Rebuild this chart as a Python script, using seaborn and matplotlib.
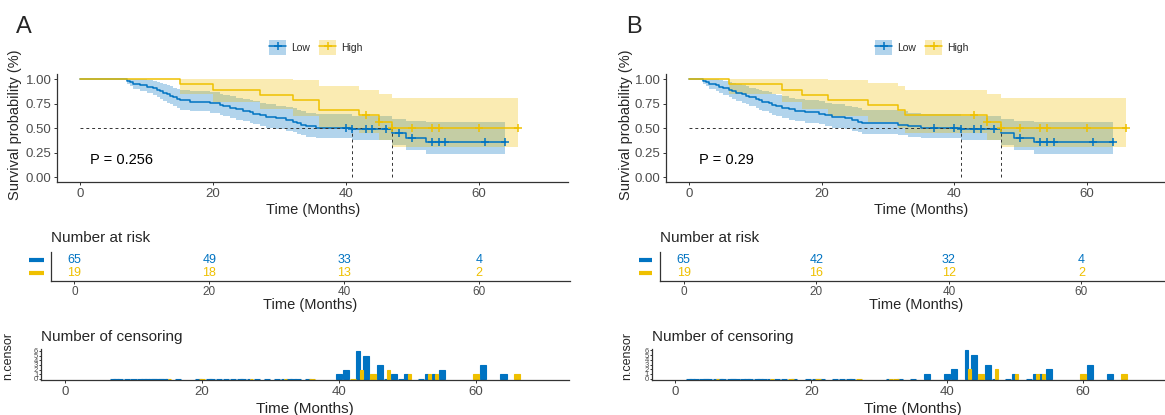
import numpy as np
import pandas as pd
import matplotlib
matplotlib.use("Agg")
import matplotlib.pyplot as plt
import seaborn as sns
from matplotlib.patches import Patch
from matplotlib.lines import Line2D
from matplotlib.legend_handler import HandlerTuple
from matplotlib.transforms import blended_transform_factory

sns.set_theme(style="white")
plt.rcParams['font.family'] = ['Liberation Sans', 'DejaVu Sans']

LOW_C = '#0073C2'
HIGH_C = '#EFC000'
AX_C = '#333333'
TICK_C = '#4D4D4D'
W, H = 1165, 415

# ---------------- 資料 ----------------
groups = ['Low', 'High']

# Panel A, Low
a_low_time = [0, 7, 7.5, 8, 9, 10, 11, 11.5, 12, 12.5, 13, 13.5, 14, 14.5, 15, 16.5, 19.5, 21, 21.5, 22.5,
              23.5, 24.5, 25.5, 26, 27, 28, 29.5, 31, 32, 32.7, 33.3, 34, 35.5, 41, 47, 49, 52, 64]
a_low_surv = [1, .985, .969, .954, .938, .923, .908, .892, .877, .862, .846, .831, .815, .800, .785, .769, .754, .738, .723, .708,
              .692, .677, .662, .646, .631, .615, .600, .585, .569, .554, .538, .523, .508, .492, .449, .400, .364, .364]
a_low_lower = [1, .955, .928, .904, .882, .861, .840, .820, .801, .782, .763, .745, .726, .708, .691, .673, .656, .639, .622, .605,
               .589, .572, .556, .540, .524, .508, .492, .476, .461, .445, .430, .415, .400, .384, .33, .28, .24, .24]
a_low_upper = [1, 1, 1, 1, .999, .990, .981, .971, .961, .950, .939, .927, .915, .903, .891, .879, .866, .853, .840, .827,
               .814, .801, .787, .774, .760, .746, .732, .718, .703, .689, .674, .659, .645, .630, .60, .57, .56, .56]
a_low_cens = [40, 41, 43, 44, 46, 48, 50, 53, 54, 55, 61, 64]

# Panel A, High
a_high_time = [0, 15, 20, 27, 32, 36, 42, 45, 47, 66]
a_high_surv = [1, .947, .895, .842, .789, .684, .632, .569, .498, .498]
a_high_lower = [1, .852, .767, .693, .626, .504, .448, .381, .308, .308]
a_high_upper = [1, 1, 1, 1, .995, .929, .890, .850, .805, .805]
a_high_cens = [43, 45, 47, 50, 53, 54, 60, 66]

# Panel B, Low
b_low_time = [0, 2, 2.5, 3, 4, 4.5, 5, 6, 6.5, 7, 8, 8.5, 9, 10, 10.5, 11, 12, 12.5, 13, 14,
              15, 16, 17.5, 19.5, 20.5, 21.5, 23.5, 24.5, 25.5, 26, 31.5, 33, 35, 41, 47, 49, 52, 64]
b_low_surv = [1, .985, .969, .954, .938, .923, .908, .892, .877, .862, .846, .831, .815, .800, .785, .769, .754, .738, .723, .708,
              .692, .677, .662, .646, .631, .615, .600, .585, .569, .554, .538, .523, .508, .492, .449, .400, .364, .364]
b_low_lower = [1, .955, .928, .904, .882, .861, .840, .820, .801, .782, .763, .745, .726, .708, .691, .673, .656, .639, .622, .605,
               .589, .572, .556, .540, .524, .508, .492, .476, .461, .445, .430, .415, .400, .384, .33, .28, .24, .24]
b_low_upper = [1, 1, 1, 1, .999, .990, .981, .971, .961, .950, .939, .927, .915, .903, .891, .879, .866, .853, .840, .827,
               .814, .801, .787, .774, .760, .746, .732, .718, .703, .689, .674, .659, .645, .630, .60, .57, .56, .56]
b_low_cens = [37, 40, 41, 43, 44, 46, 50, 53, 54, 55, 61, 64]

# Panel B, High
b_high_time = [0, 6, 14, 17, 21, 27, 31.5, 32.5, 45, 47, 66]
b_high_surv = [1, .947, .895, .842, .789, .737, .684, .632, .569, .498, .498]
b_high_lower = [1, .852, .767, .693, .626, .563, .504, .448, .381, .308, .308]
b_high_upper = [1, 1, 1, 1, .995, .964, .929, .890, .850, .805, .805]
b_high_cens = [43, 45, 47, 50, 53, 54, 60, 66]

a_median = [41, 47]
b_median = [41, 47]
a_pval = 'P = 0.256'
b_pval = 'P = 0.29'

# number at risk
risk_time = [0, 20, 40, 60]
a_risk_low = [65, 49, 33, 4]
a_risk_high = [19, 18, 13, 2]
b_risk_low = [65, 42, 32, 4]
b_risk_high = [19, 16, 12, 2]

# number of censoring (只列出 >0 的)
a_nc_low_time = [40, 41, 43, 44, 46, 48, 50, 53, 54, 55, 61, 64]
a_nc_low_n = [1, 2, 6, 5, 3, 1, 1, 1, 1, 2, 3, 1]
a_nc_high_time = [43, 45, 47, 50, 53, 54, 60, 66]
a_nc_high_n = [2, 1, 2, 1, 1, 1, 1, 1]
b_nc_low_time = [37, 40, 41, 43, 44, 46, 50, 53, 54, 55, 61, 64]
b_nc_low_n = [1, 1, 2, 6, 5, 3, 1, 1, 1, 2, 3, 1]
b_nc_high_time = [43, 45, 47, 50, 53, 54, 60, 66]
b_nc_high_n = [2, 1, 2, 1, 1, 1, 1, 1]

XLIM = (-3.5, 73.5)

fig = plt.figure(figsize=(W / 100, H / 100), dpi=100)


def px_axes(left, top, right, bottom):
    return fig.add_axes([left / W, 1 - bottom / H, (right - left) / W, (bottom - top) / H])


def fig_text(x, y, s, **kw):
    fig.text(x / W, 1 - y / H, s, **kw)


def style_axes(ax, ticksize=9.5):
    sns.despine(ax=ax)
    for sp in ['left', 'bottom']:
        ax.spines[sp].set_color(AX_C)
        ax.spines[sp].set_linewidth(0.9)
    ax.tick_params(axis='both', direction='out', length=2.5, width=0.7, color=AX_C,
                   labelcolor=TICK_C, labelsize=ticksize, pad=1.5, left=True, bottom=True)
    ax.set_facecolor('white')
    ax.grid(False)
    ax.set_xlim(*XLIM)
    ax.set_xticks(risk_time)
    ax.set_xlabel('')
    ax.set_ylabel('')


def draw_km(ax, curves, medians, pval):
    for t, s, lo, up, cens, c in curves:
        ax.fill_between(t, lo, up, step='post', color=c, alpha=0.3, lw=0)
    for t, s, lo, up, cens, c in curves:
        df = pd.DataFrame({'time': t, 'surv': s})
        sns.lineplot(data=df, x='time', y='surv', drawstyle='steps-post', color=c, lw=1.1,
                     estimator=None, errorbar=None, ax=ax)
        idx = np.searchsorted(t, cens, side='right') - 1
        sns.scatterplot(x=cens, y=np.asarray(s)[idx], marker='+', s=35, color=c, linewidth=1.1,
                        ax=ax, zorder=4, legend=False)
    ax.plot([0, max(medians)], [0.5, 0.5], ls=(0, (3, 3)), color=AX_C, lw=0.7)
    for m in medians:
        ax.plot([m, m], [0, 0.5], ls=(0, (3, 3)), color=AX_C, lw=0.7)
    ax.text(1.5, 0.18, pval, ha='left', va='center', fontsize=10.5, color='black')
    style_axes(ax)
    ax.set_ylim(-0.05, 1.05)
    ax.set_yticks([0, 0.25, 0.5, 0.75, 1.0])
    ax.set_yticklabels(['0.00', '0.25', '0.50', '0.75', '1.00'])


def draw_risk(ax, low, high, dash_x):
    for n_low, n_high, t in zip(low, high, risk_time):
        ax.text(t, 2, str(n_low), ha='center', va='center', color=LOW_C, fontsize=9)
        ax.text(t, 1, str(n_high), ha='center', va='center', color=HIGH_C, fontsize=9)
    style_axes(ax, ticksize=8.5)
    ax.tick_params(axis='x', pad=1)
    ax.set_ylim(0.4, 2.6)
    ax.set_yticks([])
    tr = blended_transform_factory(fig.transFigure, ax.transData)
    for yy, c in [(2, LOW_C), (1, HIGH_C)]:
        ax.plot([dash_x[0] / W, dash_x[1] / W], [yy, yy], color=c, lw=3, transform=tr,
                clip_on=False, solid_capstyle='butt')


def draw_ncensor(ax, low_ev, low_t, low_n, high_ev, high_t, high_n):
    low = {t: 0 for t in low_ev}
    low.update(dict(zip(low_t, low_n)))
    high = {t: 0 for t in high_ev}
    high.update(dict(zip(high_t, high_n)))
    for cnt, other, c, side in [(low, high, LOW_C, -1), (high, low, HIGH_C, 1)]:
        for t, n in cnt.items():
            if t in other:
                x, w = t + side * 0.225, 0.45
            else:
                x, w = t, 0.9
            ax.bar(x, n, width=w, color=c, edgecolor=c, lw=0.8)
    style_axes(ax)
    ax.set_ylim(-0.3, 6.3)
    ax.set_yticks(range(7))
    # 刻度很擠，原圖也是疊在一起
    ax.tick_params(axis='y', labelsize=5.5, pad=0.5, length=1.5)


panels = [
    dict(km=(57, 74.4, 568.3, 182.2), risk=(50.8, 252, 569.8, 281), nc=(41, 349.4, 568.5, 380.4),
         letter=(24, 27, 'A'), ylab_x=15, leg_x=316, dash=(29, 43.7), risk_title_x=50.8,
         nc_title_x=41, nclab_x=8,
         curves=[(a_low_time, a_low_surv, a_low_lower, a_low_upper, a_low_cens, LOW_C),
                 (a_high_time, a_high_surv, a_high_lower, a_high_upper, a_high_cens, HIGH_C)],
         median=a_median, pval=a_pval, rl=a_risk_low, rh=a_risk_high,
         nc_low=(a_nc_low_time, a_nc_low_n), nc_high=(a_nc_high_time, a_nc_high_n)),
    dict(km=(666.3, 74.4, 1176, 182.2), risk=(660.4, 252, 1171, 281), nc=(651.5, 349, 1175, 380),
         letter=(634, 27, 'B'), ylab_x=626, leg_x=922, dash=(639, 652), risk_title_x=659.5,
         nc_title_x=651.7, nclab_x=627,
         curves=[(b_low_time, b_low_surv, b_low_lower, b_low_upper, b_low_cens, LOW_C),
                 (b_high_time, b_high_surv, b_high_lower, b_high_upper, b_high_cens, HIGH_C)],
         median=b_median, pval=b_pval, rl=b_risk_low, rh=b_risk_high,
         nc_low=(b_nc_low_time, b_nc_low_n), nc_high=(b_nc_high_time, b_nc_high_n)),
]

for p in panels:
    # --- KM 曲線 ---
    ax = px_axes(*p['km'])
    draw_km(ax, p['curves'], p['median'], p['pval'])
    kl, kt, kr, kb = p['km']
    fig_text(p['ylab_x'], (kt + kb) / 2 - 4, 'Survival probability (%)', rotation=90,
             ha='center', va='center', fontsize=10.5)
    fig_text((kl + kr) / 2, 210, 'Time (Months)', ha='center', va='center', fontsize=10.5)
    lx, ly, letter = p['letter']
    fig_text(lx, ly, letter, ha='center', va='center', fontsize=17)

    handles = [(Patch(facecolor=c, alpha=0.3, lw=0),
                Line2D([], [], color=c, lw=1.1, marker='+', markersize=6, mew=1.1))
               for c in [LOW_C, HIGH_C]]
    fig.legend(handles, groups, handler_map={tuple: HandlerTuple(ndivide=1)}, loc='center',
               bbox_to_anchor=(p['leg_x'] / W, 1 - 47.7 / H), ncol=2, frameon=False,
               fontsize=7.5, handlelength=1.6, handleheight=1.8, columnspacing=0.9,
               handletextpad=0.5)

    # --- Number at risk ---
    ax = px_axes(*p['risk'])
    draw_risk(ax, p['rl'], p['rh'], p['dash'])
    rl_, rt, rr, rb = p['risk']
    fig_text(p['risk_title_x'], 238, 'Number at risk', ha='left', va='center', fontsize=11)
    fig_text((rl_ + rr) / 2, 304.5, 'Time (Months)', ha='center', va='center', fontsize=10.5)

    # --- Number of censoring ---
    ax = px_axes(*p['nc'])
    low_ev = p['curves'][0][0][1:-1]
    high_ev = p['curves'][1][0][1:-1]
    draw_ncensor(ax, low_ev, *p['nc_low'], high_ev, *p['nc_high'])
    nl, nt, nr, nb = p['nc']
    fig_text(p['nc_title_x'], 337, 'Number of censoring', ha='left', va='center', fontsize=11)
    fig_text(p['nclab_x'], 356, 'n.censor', rotation=90, ha='center', va='center', fontsize=9)
    fig_text((nl + nr) / 2, 409, 'Time (Months)', ha='center', va='center', fontsize=11)

fig.savefig('out.png', dpi=100, facecolor='white')
